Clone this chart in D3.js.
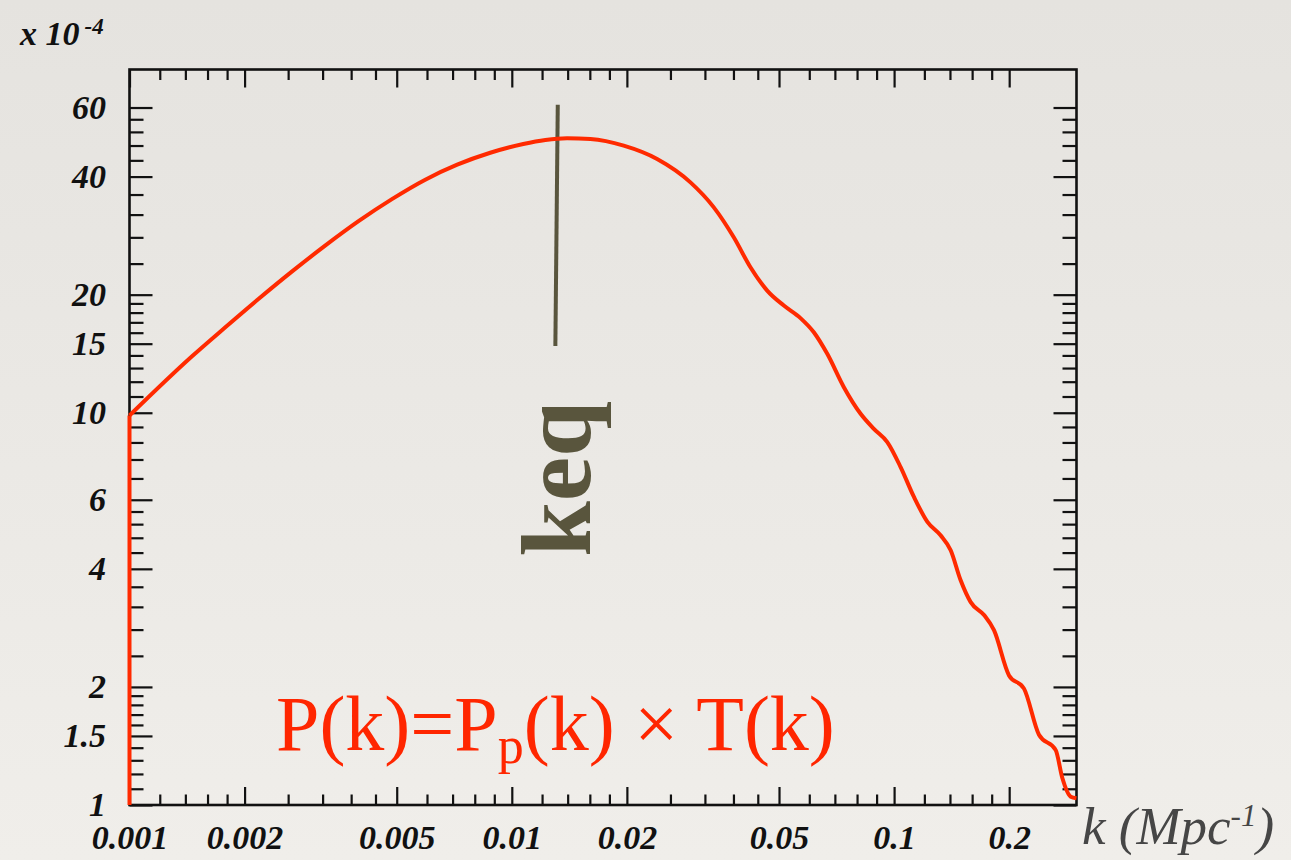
<!DOCTYPE html>
<html><head><meta charset="utf-8">
<script src="https://cdn.jsdelivr.net/npm/d3@7"></script>
<style>html,body{margin:0;padding:0;background:#ebe9e5;} svg{display:block}</style>
</head><body><svg id="c" width="1291" height="860"></svg>
<script>
// ---- data ----
const kValues = [0.001, 0.001, 0.001455, 0.001778, 0.002174, 0.002658, 0.003249, 0.003972, 0.004858, 0.005938, 0.007198,
  0.008784, 0.010717, 0.01224, 0.01395, 0.01606, 0.01962, 0.02399, 0.02933, 0.03376, 0.03807, 0.04210, 0.04656,
  0.05147, 0.05690, 0.06166, 0.06686, 0.07389, 0.08173, 0.08853, 0.09598, 0.1040, 0.1127, 0.1222, 0.1323, 0.1406,
  0.1493, 0.1586, 0.1719, 0.1825, 0.1998, 0.2187, 0.2393, 0.2647, 0.2756, 0.2897, 0.3];
const pValues = [1, 9.84, 13.91, 16.49, 19.49, 22.89, 26.67, 30.79, 35.04, 39.28, 42.89,
  46.0, 48.42, 49.58, 50.10, 49.87, 47.96, 44.35, 38.66, 33.39, 28.01, 23.49, 20.48,
  18.76, 17.43, 16.04, 14.13, 11.62, 9.94, 9.10, 8.42, 7.27, 6.10, 5.27, 4.87, 4.46,
  3.74, 3.29, 3.05, 2.79, 2.14, 1.98, 1.51, 1.38, 1.17, 1.05, 1.04];

const xMajorTicks = [0.001, 0.002, 0.005, 0.01, 0.02, 0.05, 0.1, 0.2];
const xMajorLabels = ["0.001", "0.002", "0.005", "0.01", "0.02", "0.05", "0.1", "0.2"];
const xMinorTicks = [0.0012, 0.0014, 0.0016, 0.0018, 0.0026, 0.0032, 0.0038, 0.0044, 0.006, 0.007, 0.008, 0.009,
  0.012, 0.014, 0.016, 0.018, 0.026, 0.032, 0.038, 0.044, 0.06, 0.07, 0.08, 0.09, 0.12, 0.14, 0.16, 0.18];
const yMajorTicks = [1, 1.5, 2, 4, 6, 10, 15, 20, 40, 60];
const yMajorLabels = ["1", "1.5", "2", "4", "6", "10", "15", "20", "40", "60"];
const yMinorTicks = [1.1, 1.2, 1.3, 1.4, 1.6, 1.7, 1.8, 1.9, 2.4, 2.8, 3.2, 3.6, 4.4, 4.8, 5.2, 5.6, 6.8, 7.6, 8.4, 9.2,
  11, 12, 13, 14, 16, 17, 18, 19, 24, 28, 32, 36, 44, 48, 52, 56];
const keqK = [0.01319, 0.01300];
const keqP = [61, 14.8];
const xDomain = [0.001, 0.3];
const yDomain = [1, 75];

// ---- layout ----
const L = 129.5, R = 1076.5, T = 69.5, B = 805;
const svg = d3.select("#c");

const defs = svg.append("defs");
const grad = defs.append("linearGradient").attr("id", "bg").attr("x1", 0).attr("y1", 0).attr("x2", 0).attr("y2", 1);
grad.append("stop").attr("offset", "0%").attr("stop-color", "#e5e3df");
grad.append("stop").attr("offset", "100%").attr("stop-color", "#f0eeea");
svg.append("rect").attr("width", 1291).attr("height", 860).attr("fill", "url(#bg)");

const x = d3.scaleLog().domain(xDomain).range([L, R]);
const y = d3.scaleLog().domain(yDomain).range([B, T]);

const labelFont = "Liberation Serif, Times New Roman, DejaVu Serif, serif";

function styleAxis(g) {
  g.select(".domain").remove();
  g.selectAll(".tick line").attr("stroke", "#111").attr("stroke-width", 2.2);
  g.selectAll("text").style("font-family", labelFont).attr("font-weight", "bold")
    .attr("font-style", "italic").attr("font-size", 34).attr("fill", "#111");
}

// bottom axis
svg.append("g").attr("transform", `translate(0,${B})`)
  .call(d3.axisBottom(x).tickValues(xMajorTicks).tickSize(-18).tickPadding(20)
    .tickFormat((d, i) => xMajorLabels[i])).call(styleAxis);
svg.append("g").attr("transform", `translate(0,${B})`)
  .call(d3.axisBottom(x).tickValues(xMinorTicks).tickSize(-10.5).tickFormat("")).call(styleAxis);
// top axis
svg.append("g").attr("transform", `translate(0,${T})`)
  .call(d3.axisTop(x).tickValues(xMajorTicks).tickSize(-18).tickFormat("")).call(styleAxis);
svg.append("g").attr("transform", `translate(0,${T})`)
  .call(d3.axisTop(x).tickValues(xMinorTicks).tickSize(-10.5).tickFormat("")).call(styleAxis);
// left axis
svg.append("g").attr("transform", `translate(${L},0)`)
  .call(d3.axisLeft(y).tickValues(yMajorTicks).tickSize(-23).tickPadding(23.5)
    .tickFormat((d, i) => yMajorLabels[i])).call(styleAxis);
svg.append("g").attr("transform", `translate(${L},0)`)
  .call(d3.axisLeft(y).tickValues(yMinorTicks).tickSize(-14).tickFormat("")).call(styleAxis);
// right axis
svg.append("g").attr("transform", `translate(${R},0)`)
  .call(d3.axisRight(y).tickValues(yMajorTicks).tickSize(-23).tickFormat("")).call(styleAxis);
svg.append("g").attr("transform", `translate(${R},0)`)
  .call(d3.axisRight(y).tickValues(yMinorTicks).tickSize(-14).tickFormat("")).call(styleAxis);

// frame
svg.append("rect").attr("x", L).attr("y", T).attr("width", R - L).attr("height", B - T)
  .attr("fill", "none").attr("stroke", "#111").attr("stroke-width", 2.6);

// x 10^-4
const mult = svg.append("text").attr("x", 20).attr("y", 45).style("font-family", labelFont)
  .attr("font-weight", "bold").attr("font-style", "italic").attr("font-size", 34).attr("fill", "#111");
mult.append("tspan").text("x 10");
mult.append("tspan").attr("dx", 5).attr("dy", -11).attr("font-size", 23).text("-4");

// axis title
const xt = svg.append("text").attr("x", 1082).attr("y", 844).style("font-family", labelFont)
  .attr("font-style", "italic").attr("font-size", 53).attr("fill", "#464646");
xt.append("tspan").text("k (Mpc");
xt.append("tspan").attr("dy", -18).attr("font-size", 31).text("-1");
xt.append("tspan").attr("dy", 18).text(")");

// keq line
const keqPts = keqK.map((k, i) => [k, keqP[i]]);
svg.append("path").datum(keqPts)
  .attr("d", d3.line().x(d => x(d[0])).y(d => y(d[1])))
  .attr("stroke", "#59553d").attr("stroke-width", 4).attr("fill", "none");

// keq label
svg.append("text").attr("transform", "translate(590,479) rotate(-90)")
  .attr("text-anchor", "middle").style("font-family", labelFont).attr("font-weight", "bold")
  .attr("font-size", 100).attr("fill", "#59553d").text("keq");

// formula
const f = svg.append("text").attr("x", 276).attr("y", 750).style("font-family", labelFont)
  .attr("font-size", 78).attr("fill", "#ff2600");
f.append("tspan").text("P(k)=P");
f.append("tspan").attr("dy", 13).attr("font-size", 52).text("p");
f.append("tspan").attr("dy", -13).text("(k) \u00d7 T(k)");

// curve: vertical start segment, then the smooth spectrum
const pts = kValues.map((k, i) => [k, pValues[i]]);
const lineLin = d3.line().x(d => x(d[0])).y(d => y(d[1]));
const lineSmooth = d3.line().x(d => x(d[0])).y(d => y(d[1])).curve(d3.curveMonotoneX);
svg.append("path").datum(pts.slice(0, 2)).attr("d", lineLin)
  .attr("stroke", "#ff2a00").attr("stroke-width", 4).attr("fill", "none");
svg.append("path").datum(pts.slice(1))
  .attr("d", lineSmooth)
  .attr("stroke", "#ff2a00").attr("stroke-width", 4).attr("fill", "none")
  .attr("stroke-linejoin", "round");
</script></body></html>
